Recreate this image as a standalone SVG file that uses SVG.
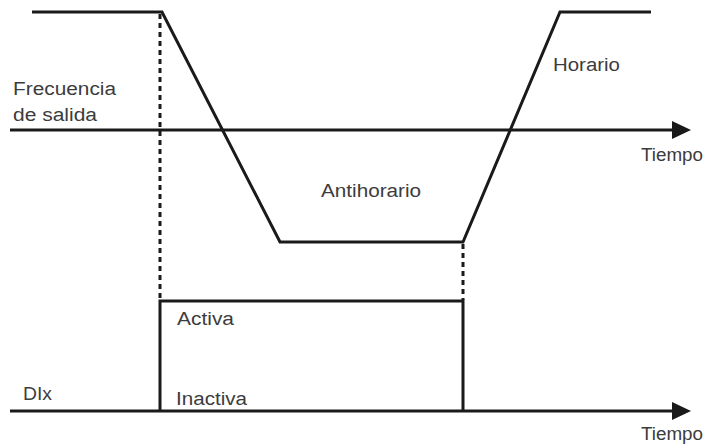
<svg xmlns="http://www.w3.org/2000/svg" width="709" height="447" viewBox="0 0 709 447">
<defs>
<style>
.ln{fill:none;stroke:#1a1a1a;stroke-width:3;stroke-linejoin:miter}
.dot{fill:none;stroke:#1a1a1a;stroke-width:3;stroke-dasharray:5 4}
.head{fill:#1a1a1a}
.t{font-family:"Liberation Sans",Arial,sans-serif;font-size:18px;fill:#3c3c3c}
</style>
</defs>
<g id="connectors">
<path class="ln" d="M10,130 H674"/>
<path class="head" d="M672,121 L691,130 L672,139 Z"/>
<path class="ln" d="M10,411 H674"/>
<path class="head" d="M672,402 L691,411 L672,420 Z"/>
<path class="dot" d="M160,14 V300"/>
<path class="dot" d="M463,244 V300"/>
</g>
<g id="frequency">
<path class="ln" d="M32,12 H162 L280,242 H463 L560,12 H651"/>
</g>
<g id="pulse">
<path class="ln" d="M160,411 V301 H463 V411"/>
</g>
<g id="labels">
<text class="t" x="13" y="95" textLength="103" lengthAdjust="spacingAndGlyphs">Frecuencia</text>
<text class="t" x="13" y="121" textLength="84" lengthAdjust="spacingAndGlyphs">de salida</text>
<text class="t" x="641" y="161" textLength="62" lengthAdjust="spacingAndGlyphs">Tiempo</text>
<text class="t" x="321" y="197" textLength="100" lengthAdjust="spacingAndGlyphs">Antihorario</text>
<text class="t" x="553" y="71" textLength="67" lengthAdjust="spacingAndGlyphs">Horario</text>
<text class="t" x="177" y="325" textLength="57" lengthAdjust="spacingAndGlyphs">Activa</text>
<text class="t" x="176" y="405" textLength="71" lengthAdjust="spacingAndGlyphs">Inactiva</text>
<text class="t" x="23" y="400" textLength="29" lengthAdjust="spacingAndGlyphs">DIx</text>
<text class="t" x="641" y="440" textLength="62" lengthAdjust="spacingAndGlyphs">Tiempo</text>
</g>
</svg>
